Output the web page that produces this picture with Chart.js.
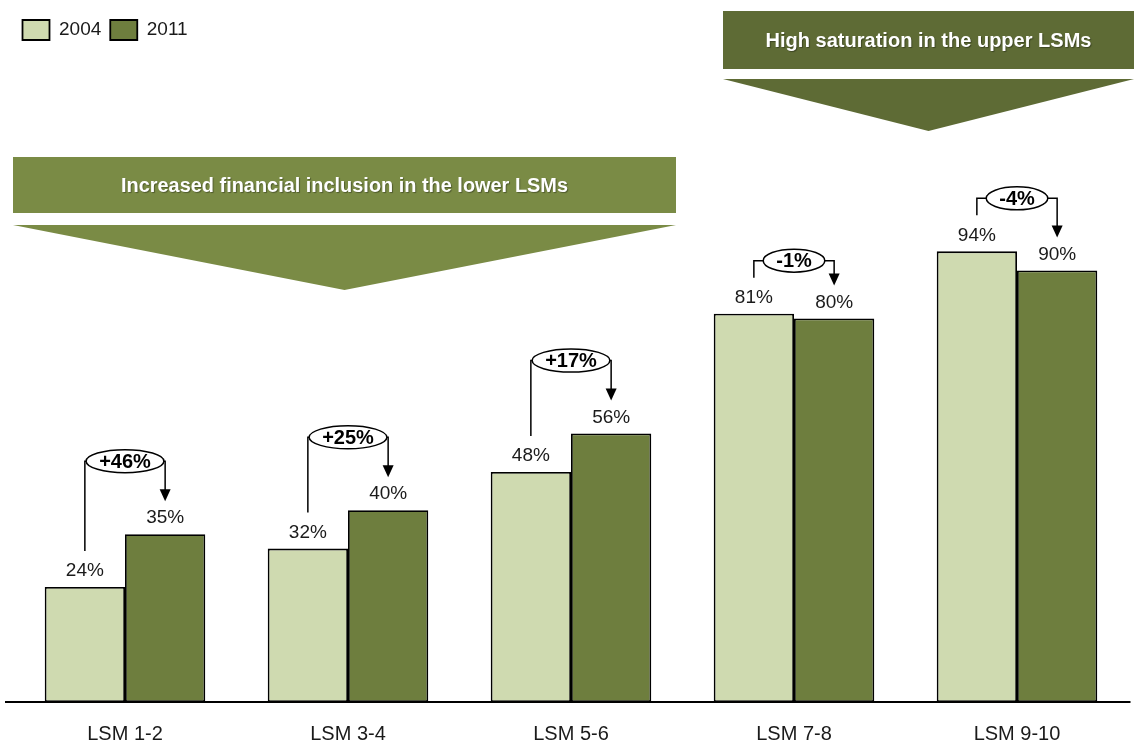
<!DOCTYPE html>
<html>
<head>
<meta charset="utf-8">
<script src="https://cdn.jsdelivr.net/npm/chart.js@4.4.1/dist/chart.umd.min.js"></script>
<style>
  html, body { margin: 0; padding: 0; background: #ffffff; }
  #wrap { width: 1134px; height: 742px; }
</style>
</head>
<body>
<div id="wrap"><canvas id="c" width="1134" height="742"></canvas></div>
<script>
const categories = ['LSM 1-2', 'LSM 3-4', 'LSM 5-6', 'LSM 7-8', 'LSM 9-10'];
const seriesNames = ['2004', '2011'];
const values2004 = [24, 32, 48, 81, 94];
const values2011 = [35, 40, 56, 80, 90];
const changeLabels = ['+46%', '+25%', '+17%', '-1%', '-4%'];
const bannerLower = 'Increased financial inclusion in the lower LSMs';
const bannerUpper = 'High saturation in the upper LSMs';

const FONT = '"Liberation Sans", Arial, Helvetica, sans-serif';
const TEXT = '#1a1a1a';
const LIGHT = '#cfdab0';
const DARK = '#6e7e3e';
const BANNER_LOWER = '#7a8b45';
const BANNER_UPPER = '#5e6b35';

function drawBanner(ctx, x1, x2, rTop, rBot, tTop, apexY, color, text, targetW) {
  ctx.save();
  ctx.fillStyle = color;
  ctx.fillRect(x1, rTop, x2 - x1, rBot - rTop);
  ctx.beginPath();
  ctx.moveTo(x1, tTop);
  ctx.lineTo(x2, tTop);
  ctx.lineTo((x1 + x2) / 2, apexY);
  ctx.closePath();
  ctx.fill();
  ctx.font = 'bold 20px ' + FONT;
  const w = ctx.measureText(text).width;
  const s = targetW / w;
  ctx.translate((x1 + x2) / 2, (rTop + rBot) / 2 + 1);
  ctx.scale(s, 1);
  ctx.textAlign = 'center';
  ctx.textBaseline = 'middle';
  ctx.shadowColor = 'rgba(0,0,0,0.35)';
  ctx.shadowOffsetX = 1;
  ctx.shadowOffsetY = 1;
  ctx.shadowBlur = 1;
  ctx.fillStyle = '#ffffff';
  ctx.fillText(text, 0, 0);
  ctx.restore();
}

const annotations = {
  id: 'annotations',
  beforeDatasetsDraw(chart) {
    const ctx = chart.ctx;
    drawBanner(ctx, 13, 676, 157, 213, 225, 290, BANNER_LOWER, bannerLower, 447);
    drawBanner(ctx, 723, 1134, 11, 69, 79, 131, BANNER_UPPER, bannerUpper, 326);
  },
  afterDatasetsDraw(chart) {
    const ctx = chart.ctx;
    const area = chart.chartArea;
    const yBase = chart.scales.y.getPixelForValue(0);
    ctx.save();
    // baseline axis
    ctx.strokeStyle = '#000';
    ctx.lineWidth = 2;
    ctx.beginPath();
    ctx.moveTo(5, yBase);
    ctx.lineTo(area.right + 2, yBase);
    ctx.stroke();

    const m0 = chart.getDatasetMeta(0);
    const m1 = chart.getDatasetMeta(1);
    ctx.fillStyle = TEXT;
    ctx.textAlign = 'center';
    ctx.textBaseline = 'middle';
    for (let i = 0; i < categories.length; i++) {
      const b0 = m0.data[i], b1 = m1.data[i];
      const ly0 = b0.y - 16, ly1 = b1.y - 16;
      ctx.font = '19px ' + FONT;
      ctx.fillStyle = TEXT;
      ctx.fillText(values2004[i] + '%', b0.x, ly0);
      ctx.fillText(values2011[i] + '%', b1.x, ly1);

      // callout
      const up = values2011[i] >= values2004[i];
      const ey = up ? ly1 - 57 : ly0 - 37;
      const ex = (b0.x + b1.x) / 2;
      ctx.font = 'bold 20px ' + FONT;
      const tw = ctx.measureText(changeLabels[i]).width;
      const rx = (tw + 26) / 2, ry = 11.5;
      ctx.strokeStyle = '#000';
      ctx.lineWidth = 1.5;
      // left bracket
      ctx.beginPath();
      ctx.moveTo(b0.x, ly0 - 20);
      ctx.lineTo(b0.x, ey);
      ctx.lineTo(ex - rx, ey);
      ctx.stroke();
      // right bracket with arrow
      const tip = ly1 - 17;
      ctx.beginPath();
      ctx.moveTo(ex + rx, ey);
      ctx.lineTo(b1.x, ey);
      ctx.lineTo(b1.x, tip - 11);
      ctx.stroke();
      ctx.fillStyle = '#000';
      ctx.beginPath();
      ctx.moveTo(b1.x, tip);
      ctx.lineTo(b1.x - 5.5, tip - 12);
      ctx.lineTo(b1.x + 5.5, tip - 12);
      ctx.closePath();
      ctx.fill();
      // ellipse
      ctx.beginPath();
      ctx.ellipse(ex, ey, rx, ry, 0, 0, Math.PI * 2);
      ctx.fillStyle = '#ffffff';
      ctx.fill();
      ctx.stroke();
      ctx.fillStyle = '#000';
      ctx.fillText(changeLabels[i], ex, ey + 1);
    }
    ctx.restore();
  }
};

new Chart(document.getElementById('c'), {
  type: 'bar',
  data: {
    labels: categories,
    datasets: [
      { label: seriesNames[0], data: values2004, backgroundColor: LIGHT, borderColor: '#000', borderWidth: 1.8, borderSkipped: false },
      { label: seriesNames[1], data: values2011, backgroundColor: DARK, borderColor: '#000', borderWidth: 1.8, borderSkipped: false }
    ]
  },
  options: {
    responsive: false,
    devicePixelRatio: 1,
    animation: false,
    layout: { padding: { top: 11, left: 13.5, right: 5.5, bottom: -24 } },
    datasets: { bar: { categoryPercentage: 0.72, barPercentage: 1 } },
    plugins: {
      legend: {
        position: 'top',
        align: 'start',
        labels: {
          boxWidth: 27,
          boxHeight: 20,
          padding: 9,
          color: TEXT,
          font: { family: FONT, size: 19 }
        }
      },
      tooltip: { enabled: false }
    },
    scales: {
      x: {
        grid: { display: false, drawTicks: false },
        border: { display: false },
        ticks: { color: TEXT, padding: 22, font: { family: FONT, size: 20, lineHeight: 1.0 }, maxRotation: 0, autoSkip: false }
      },
      y: {
        display: false,
        min: 0,
        max: 136
      }
    }
  },
  plugins: [annotations]
});
</script>
</body>
</html>
